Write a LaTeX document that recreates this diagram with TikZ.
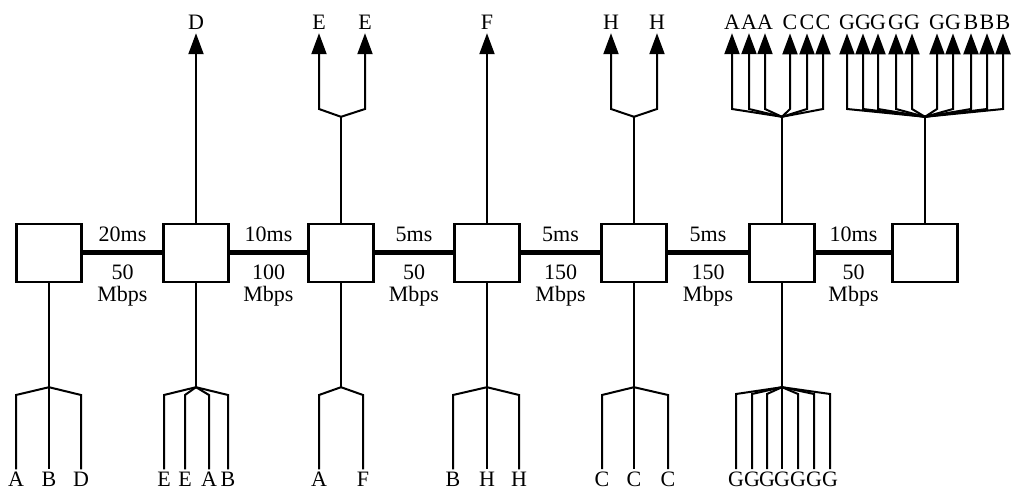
\documentclass[tikz,border=0pt]{standalone}
\usepackage{fontspec}
\setmainfont{Liberation Serif}
\usetikzlibrary{arrows.meta,positioning}

\tikzset{
  router/.style={draw, line width=2.4pt, minimum width=65pt, minimum height=58pt, inner sep=0pt},
  link/.style={line width=5pt},
  flow/.style={line width=2pt},
  dest/.style={flow, -{Triangle[width=15pt,length=21pt]}},
  leaf/.style={anchor=base, inner sep=2pt},
  tag/.style={anchor=base, inner sep=3pt},
}

\begin{document}
\begin{tikzpicture}[x=1pt,y=-1pt,font=\fontsize{22}{22}\selectfont]
	\useasboundingbox (0,0) rectangle (1013,489);
	% Routers
	\foreach \x [count=\i] in {49,196,341,487,634,782,925}
		\node[router] (r\i) at (\x,253) {};
	% Links with delay and bandwidth
	\foreach \a/\b/\d/\r in {1/2/20ms/50, 2/3/10ms/100, 3/4/5ms/50, 4/5/5ms/150, 5/6/5ms/150, 6/7/10ms/50}{
		\draw[link] (r\a) -- (r\b);
		\path (r\a) -- (r\b) coordinate[midway] (m\a);
		\node[above=8pt of m\a] (d\a) {\d};
		\node[below=8pt of m\a, align=center] (bw\a) {\r\\Mbps};
	}
	% Lower trees (sources)
	\foreach \i in {1,...,6}
		\draw[flow] (r\i.south) -- ++(0,104) coordinate (jb\i);
	\foreach \x/\t [count=\k] in {16/A,49/B,81/D}{
		\node[leaf] (b1-\k) at (\x,486) {\t};
		\draw[flow] (jb1) -- (\x,395) -- (b1-\k);
	}
	\foreach \x/\t [count=\k] in {164/E,185/E,209/A,228/B}{
		\node[leaf] (b2-\k) at (\x,486) {\t};
		\draw[flow] (jb2) -- (\x,395) -- (b2-\k);
	}
	\foreach \x/\t [count=\k] in {319/A,363/F}{
		\node[leaf] (b3-\k) at (\x,486) {\t};
		\draw[flow] (jb3) -- (\x,395) -- (b3-\k);
	}
	\foreach \x/\t [count=\k] in {453/B,487/H,519/H}{
		\node[leaf] (b4-\k) at (\x,486) {\t};
		\draw[flow] (jb4) -- (\x,395) -- (b4-\k);
	}
	\foreach \x/\t [count=\k] in {602/C,634/C,668/C}{
		\node[leaf] (b5-\k) at (\x,486) {\t};
		\draw[flow] (jb5) -- (\x,395) -- (b5-\k);
	}
	\foreach \x/\t [count=\k] in {736/G,752/G,767/G,782/G,798/G,814/G,830/G}{
		\node[leaf] (b6-\k) at (\x,486) {\t};
		\draw[flow] (jb6) -- (\x,394) -- (b6-\k);
	}
	% Upper trees (destinations)
	\node[tag] (t2) at (196,30) {D};
	\draw[dest] (r2) -- (t2);
	\node[tag] (t4) at (487,30) {F};
	\draw[dest] (r4) -- (t4);
	\foreach \i in {3,5,6,7}
		\draw[flow] (r\i.north) -- ++(0,-106) coordinate (jt\i);
	\foreach \x/\t [count=\k] in {319/E,365/E}{
		\node[tag] (t3-\k) at (\x,30) {\t};
		\draw[dest] (jt3) -- (\x,109) -- (t3-\k);
	}
	\foreach \x/\t [count=\k] in {611/H,657/H}{
		\node[tag] (t5-\k) at (\x,30) {\t};
		\draw[dest] (jt5) -- (\x,109) -- (t5-\k);
	}
	\foreach \x/\t [count=\k] in {732/A,749/A,765/A,790/C,807/C,823/C}{
		\node[tag] (t6-\k) at (\x,30) {\t};
		\draw[dest] (jt6) -- (\x,109) -- (t6-\k);
	}
	\foreach \x/\t [count=\k] in {847/G,863/G,878/G,896/G,912/G,937/G,953/G,971/B,987/B,1003/B}{
		\node[tag] (t7-\k) at (\x,30) {\t};
		\draw[dest] (jt7) -- (\x,109) -- (t7-\k);
	}
\end{tikzpicture}
\end{document}
